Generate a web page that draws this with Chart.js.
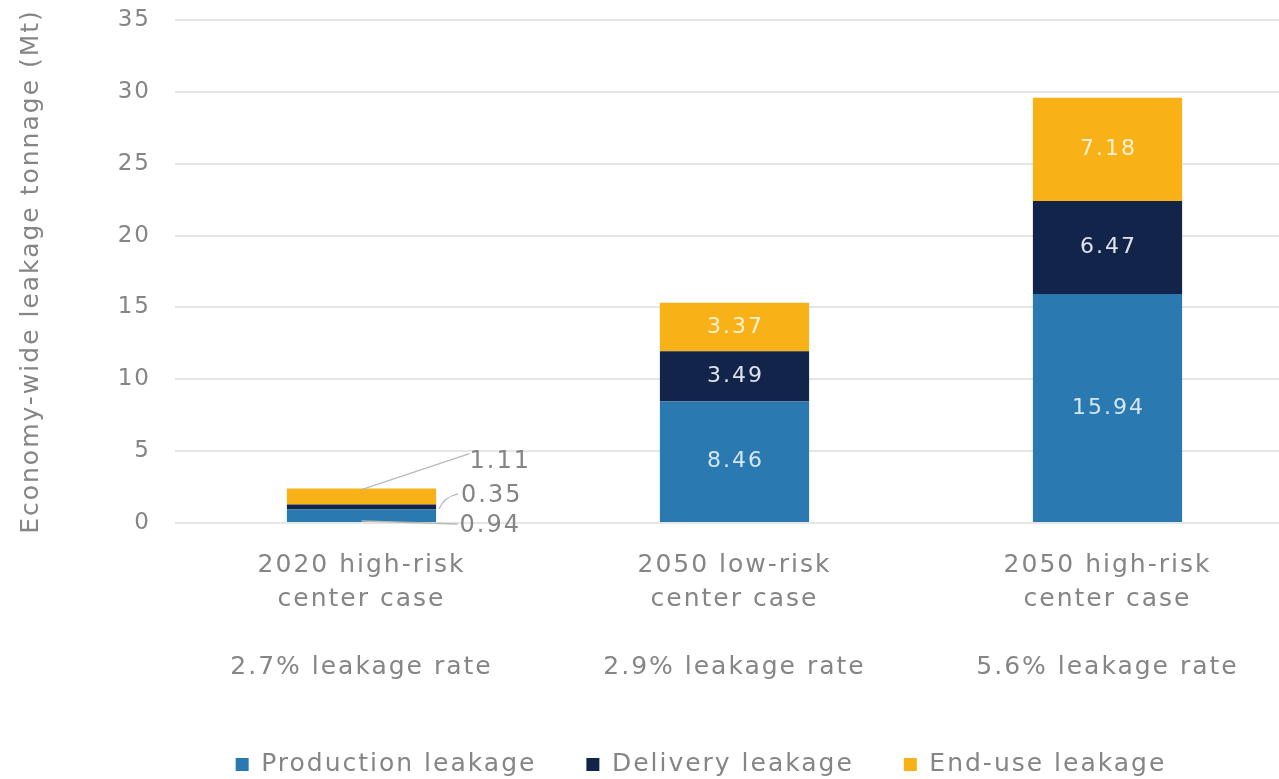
<!DOCTYPE html>
<html>
<head>
<meta charset="utf-8">
<script src="https://cdn.jsdelivr.net/npm/chart.js@4/dist/chart.umd.min.js"></script>
<style>
  html, body { margin: 0; padding: 0; background: #fff; overflow: hidden; }
  #wrap { width: 1300px; height: 779px; position: relative; }
</style>
</head>
<body>
<div id="wrap"><canvas id="leakChart"></canvas></div>
<script>
// Data
const categories = [
    ['2020 high-risk', 'center case', '', '2.7% leakage rate'],
    ['2050 low-risk', 'center case', '', '2.9% leakage rate'],
    ['2050 high-risk', 'center case', '', '5.6% leakage rate']
];
const production = [0.94, 8.46, 15.94];
const delivery = [0.35, 3.49, 6.47];
const endUse = [1.11, 3.37, 7.18];
const yTicks = [0, 5, 10, 15, 20, 25, 30, 35];

const FONT = "'DejaVu Sans', sans-serif";
const gray = '#858585';

// wide, airy lettering like the original typeface
const spacing = {
    id: 'spacing',
    beforeLayout(chart) { chart.ctx.letterSpacing = '2px'; },
    beforeDraw(chart) { chart.ctx.letterSpacing = '2px'; }
};

// labels inside bars, except the tiny first bar which gets leader lines
const barLabels = {
    id: 'barLabels',
    afterDatasetsDraw(chart) {
        const c = chart.ctx;
        c.save();
        c.textBaseline = 'middle';
        chart.data.datasets.forEach((ds, di) => {
            const meta = chart.getDatasetMeta(di);
            meta.data.forEach((bar, i) => {
                const txt = ds.data[i].toFixed(2);
                if (i > 0) {
                    c.font = '22px ' + FONT;
                    c.textAlign = 'center';
                    c.fillStyle = di === 1 ? '#dfe3ea' : (di === 0 ? '#d6e7f3' : '#fdf1d6');
                    c.fillText(txt, bar.x + 1, (bar.y + bar.base) / 2);
                    return;
                }
                // callouts for the first bar
                c.font = '24px ' + FONT;
                c.strokeStyle = '#b8b8b8';
                c.lineWidth = 1.3;
                c.fillStyle = gray;
                c.textAlign = 'left';
                c.beginPath();
                if (di === 2) {
                    c.moveTo(bar.x, bar.y + 1);
                    c.lineTo(bar.x + 108, bar.y - 35);
                    c.stroke();
                    c.fillText(txt, bar.x + 108, bar.y - 27);
                } else if (di === 1) {
                    const right = bar.x + bar.width / 2;
                    const my = (bar.y + bar.base) / 2;
                    c.moveTo(right + 3, my + 2);
                    c.quadraticCurveTo(right + 8, my - 10, right + 22, my - 13);
                    c.stroke();
                    c.fillText(txt, right + 25, my - 11);
                } else {
                    c.moveTo(bar.x, bar.base - 1);
                    c.lineTo(bar.x + 96, bar.base + 2);
                    c.stroke();
                    c.fillText(txt, bar.x + 98, bar.base + 4);
                }
            });
        });
        c.restore();
    }
};

// nudge the legend to sit where the reference has it
const legendShift = {
    id: 'legendShift',
    afterLayout(chart) {
        const lg = chart.legend;
        lg.left += 54; lg.right += 54;
        lg.top += 8; lg.bottom += 8;
    }
};

new Chart(document.getElementById('leakChart').getContext('2d'), {
    type: 'bar',
    data: {
        labels: categories,
        datasets: [
            { label: 'Production leakage', data: production, backgroundColor: '#2a79b0' },
            { label: 'Delivery leakage', data: delivery, backgroundColor: '#13244a' },
            { label: 'End-use leakage', data: endUse, backgroundColor: '#f9b118' }
        ]
    },
    options: {
        responsive: true, maintainAspectRatio: false, animation: false,
        layout: { padding: { top: 20, left: 0, right: 6, bottom: 0 } },
        datasets: { bar: { barPercentage: 1, categoryPercentage: 0.4, borderWidth: 0 } },
        plugins: {
            tooltip: { enabled: false },
            legend: {
                position: 'bottom',
                labels: {
                    color: gray, font: { family: FONT, size: 25 },
                    boxWidth: 13, boxHeight: 13, padding: 50
                }
            }
        },
        scales: {
            x: {
                stacked: true,
                grid: { display: false },
                border: { display: false },
                ticks: { color: gray, font: { family: FONT, size: 25, lineHeight: 1.36 }, padding: 17, maxRotation: 0 },
                afterFit: s => { s.height = 171; }
            },
            y: {
                stacked: true,
                min: 0, max: 35,
                afterBuildTicks: s => { s.ticks = yTicks.map(v => ({ value: v })); },
                grid: { color: '#e6e6e6', lineWidth: 2, drawTicks: false },
                border: { display: false },
                ticks: { color: gray, font: { family: FONT, size: 23 }, padding: 24 },
                title: { display: true, text: 'Economy-wide leakage tonnage (Mt)', color: gray, font: { family: FONT, size: 25 }, padding: { top: 16, bottom: 0 } },
                afterFit: s => { s.width = 175; s.paddingTop = 0; s.paddingBottom = 0; }
            }
        }
    },
    plugins: [spacing, barLabels, legendShift]
});
</script>
</body>
</html>
